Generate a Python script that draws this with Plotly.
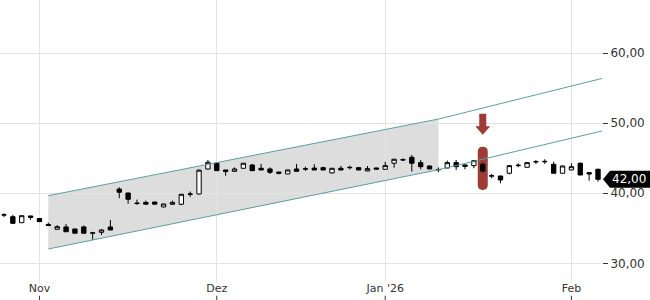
import plotly.graph_objects as go

# ---------------- data ----------------
dates = [
    "2025-10-28", "2025-10-29", "2025-10-30", "2025-10-31",
    "2025-11-03", "2025-11-04", "2025-11-05", "2025-11-06", "2025-11-07",
    "2025-11-10", "2025-11-11", "2025-11-12", "2025-11-13", "2025-11-14",
    "2025-11-17", "2025-11-18", "2025-11-19", "2025-11-20", "2025-11-21",
    "2025-11-24", "2025-11-25", "2025-11-26", "2025-11-27", "2025-11-28",
    "2025-12-01", "2025-12-02", "2025-12-03", "2025-12-04", "2025-12-05",
    "2025-12-08", "2025-12-09", "2025-12-10", "2025-12-11", "2025-12-12",
    "2025-12-15", "2025-12-16", "2025-12-17", "2025-12-18", "2025-12-19",
    "2025-12-22", "2025-12-23", "2025-12-29", "2025-12-30",
    "2026-01-02", "2026-01-05", "2026-01-06", "2026-01-07", "2026-01-08",
    "2026-01-09", "2026-01-12", "2026-01-13", "2026-01-14", "2026-01-15",
    "2026-01-16", "2026-01-19", "2026-01-20", "2026-01-21", "2026-01-22",
    "2026-01-23", "2026-01-26", "2026-01-27", "2026-01-28", "2026-01-29",
    "2026-01-30", "2026-02-02", "2026-02-03", "2026-02-04", "2026-02-05",
]
opens = [
    36.90, 36.66, 35.80, 36.76,
    36.40, 35.55, 34.86, 35.19, 34.90, 35.20, 34.30, 34.43, 35.19, 40.60,
    40.04, 38.60, 38.70, 38.75, 38.05, 38.43, 38.43, 39.85, 39.90, 43.47,
    44.29, 43.33, 43.14, 43.57, 44.04, 43.57, 43.47, 43.04, 42.76, 43.47,
    43.45, 43.60, 43.66, 42.90, 43.57, 43.65, 43.66, 43.19, 43.62,
    43.43, 44.29, 44.75, 45.14, 44.38, 43.90, 43.35, 43.61, 44.38, 44.05,
    43.95, 44.14, 42.45, 42.47, 42.86, 43.95, 43.71, 44.48, 44.50, 44.14,
    42.86, 43.33, 44.29, 42.95, 43.43,
]
highs = [
    37.15, 36.94, 36.85, 36.80,
    36.45, 35.80, 35.45, 35.60, 34.95, 35.40, 34.50, 34.90, 36.20, 40.85,
    40.10, 39.10, 38.95, 38.80, 38.50, 38.95, 39.90, 40.25, 43.40, 44.76,
    44.45, 43.35, 43.70, 44.32, 44.20, 44.20, 43.70, 43.05, 43.35, 44.20,
    43.80, 44.15, 43.80, 43.60, 43.90, 43.95, 43.70, 43.90, 43.65,
    44.50, 44.90, 45.00, 45.47, 44.76, 43.95, 43.70, 44.67, 44.76, 44.10,
    44.70, 44.38, 42.76, 42.50, 44.00, 44.29, 44.40, 44.76, 44.86, 44.52,
    43.95, 44.29, 44.40, 43.00, 43.50,
]
lows = [
    36.60, 35.70, 35.78, 36.20,
    35.90, 35.35, 34.85, 34.50, 34.25, 34.25, 33.35, 34.05, 34.75, 39.30,
    38.50, 38.35, 38.40, 38.40, 38.00, 38.40, 38.30, 39.50, 39.85, 43.40,
    43.20, 42.50, 43.10, 43.55, 43.20, 43.30, 42.76, 42.70, 42.75, 43.10,
    43.20, 43.30, 43.30, 42.85, 43.30, 43.40, 43.30, 43.15, 43.40,
    43.40, 43.66, 44.60, 43.09, 43.43, 43.45, 43.00, 43.60, 43.33, 43.43,
    43.57, 42.95, 42.14, 41.43, 42.71, 43.71, 43.70, 44.19, 44.19, 42.85,
    42.85, 43.30, 42.60, 41.80, 41.66,
]
closes = [
    36.92, 35.71, 36.80, 36.55,
    35.95, 35.40, 35.23, 34.51, 34.30, 34.30, 34.35, 34.76, 34.76, 40.15,
    39.14, 38.55, 38.45, 38.45, 38.47, 38.70, 39.86, 39.90, 43.30, 44.43,
    43.23, 43.10, 43.47, 44.29, 43.23, 43.33, 43.00, 42.86, 43.33, 43.14,
    43.50, 43.33, 43.33, 43.57, 43.33, 43.70, 43.33, 43.52, 43.45,
    43.95, 44.86, 44.80, 44.29, 43.80, 43.47, 43.40, 44.38, 43.80, 43.85,
    44.66, 43.19, 42.50, 41.90, 43.95, 44.00, 44.38, 44.52, 44.55, 42.86,
    43.90, 43.80, 42.61, 42.76, 42.00,
]

month_ticks = ["2025-11-03", "2025-12-01", "2026-01-02", "2026-02-02"]
month_labels = ["Nov", "Dez", "Jan '26", "Feb"]
price_ticks = [30, 40, 50, 60]

# trend channel: fitted (shaded) between these two dates, then projected to the right edge
channel_dates = ["2025-11-04", "2026-01-12"]
channel_upper = [39.66, 50.60, 56.40]
channel_lower = [32.04, 43.37, 48.90]

# highlighted signal candle
signal_date = "2026-01-19"
signal_low = 40.47
signal_high = 46.66
arrow_tip = 48.35

# ---------------- figure ----------------
FONT = "DejaVu Sans"
RED = "#9f3b35"
TEAL = "#5b9ea4"

pos = {d: i for i, d in enumerate(dates)}
xs = list(range(len(dates)))
x_lo, x_hi = -0.45, len(dates) - 1 + 0.45

ch_x = [pos[d] for d in channel_dates] + [x_hi]

fig = go.Figure()

fig.add_trace(go.Scatter(x=ch_x, y=channel_upper, mode="lines",
                         line=dict(color=TEAL, width=1), hoverinfo="skip", showlegend=False))
fig.add_trace(go.Scatter(x=ch_x, y=channel_lower, mode="lines",
                         line=dict(color=TEAL, width=1), hoverinfo="skip", showlegend=False))

fig.add_trace(go.Candlestick(
    x=xs, open=opens, high=highs, low=lows, close=closes,
    increasing=dict(line=dict(color="black", width=1), fillcolor="white"),
    decreasing=dict(line=dict(color="black", width=1), fillcolor="black"),
    whiskerwidth=0, showlegend=False, hoverinfo="skip",
))

shapes = []
# shaded channel region
x0, x1 = ch_x[0], ch_x[1]
shapes.append(dict(
    type="path", layer="below", xref="x", yref="y", line=dict(width=0),
    fillcolor="#dddddd",
    path=f"M {x0},{channel_lower[0]} L {x1},{channel_lower[1]} L {x1},{channel_upper[1]} "
         f"L {x0},{channel_upper[0]} Z",
))
# signal pill
sx = pos[signal_date]
r = 0.7
w = 5
shapes.append(dict(
    type="path", layer="between", xref="x", yref="y", xsizemode="pixel", xanchor=sx,
    fillcolor=RED, line=dict(width=0),
    path=(f"M {-w},{signal_low + r} Q {-w},{signal_low} 0,{signal_low} "
          f"Q {w},{signal_low} {w},{signal_low + r} L {w},{signal_high - r} "
          f"Q {w},{signal_high} 0,{signal_high} Q {-w},{signal_high} {-w},{signal_high - r} Z"),
))
# arrow
shapes.append(dict(
    type="path", layer="above", xref="x", yref="y", xsizemode="pixel", ysizemode="pixel",
    xanchor=sx, yanchor=arrow_tip, fillcolor=RED, line=dict(width=0),
    path="M 0,0 L -7.5,8.5 L -3.5,8.5 L -3.5,21 L 3.5,21 L 3.5,8.5 L 7.5,8.5 Z",
))
# last price flag
shapes.append(dict(
    type="path", layer="above", xref="paper", yref="y", xsizemode="pixel", ysizemode="pixel",
    xanchor=1, yanchor=closes[-1], fillcolor="black", line=dict(width=0),
    path="M 1,0 L 8,8.5 L 48,8.5 L 48,-8.5 L 8,-8.5 Z",
))
# x tick marks below the labels
for t in month_ticks:
    shapes.append(dict(type="line", xref="x", yref="paper", x0=pos[t], x1=pos[t],
                       y0=-0.045, y1=-0.068, line=dict(color="#333333", width=1)))

fig.add_annotation(x=1, xref="paper", y=closes[-1], yref="y", xanchor="left", yanchor="middle",
                   xshift=8, text=f"{closes[-1]:.2f}".replace(".", ","), showarrow=False,
                   font=dict(family=FONT, size=12, color="white"))

fig.update_layout(
    width=650, height=300,
    margin=dict(l=0, r=48, t=0, b=17),
    plot_bgcolor="white", paper_bgcolor="white",
    separators=",.",
    shapes=shapes,
    font=dict(family=FONT, size=11, color="#333333"),
    xaxis=dict(
        range=[x_lo, x_hi], tickvals=[pos[t] for t in month_ticks], ticktext=month_labels,
        showgrid=True, gridcolor="#e3e3e3", gridwidth=1, zeroline=False, showline=False,
        ticks="", rangeslider=dict(visible=False), fixedrange=True, ticklabelstandoff=-3,
        tickfont=dict(family=FONT, size=11, color="#333333"),
    ),
    yaxis=dict(
        side="right", range=[27.19, 67.6], tickvals=price_ticks, tickformat=".2f",
        showgrid=True, gridcolor="#e3e3e3", gridwidth=1, zeroline=False, showline=False,
        ticks="outside", ticklen=5, tickcolor="#333333", tickwidth=1,
        tickfont=dict(family=FONT, size=12, color="#333333"),
    ),
    boxgap=0.3,
)

fig.write_html("out.html")
